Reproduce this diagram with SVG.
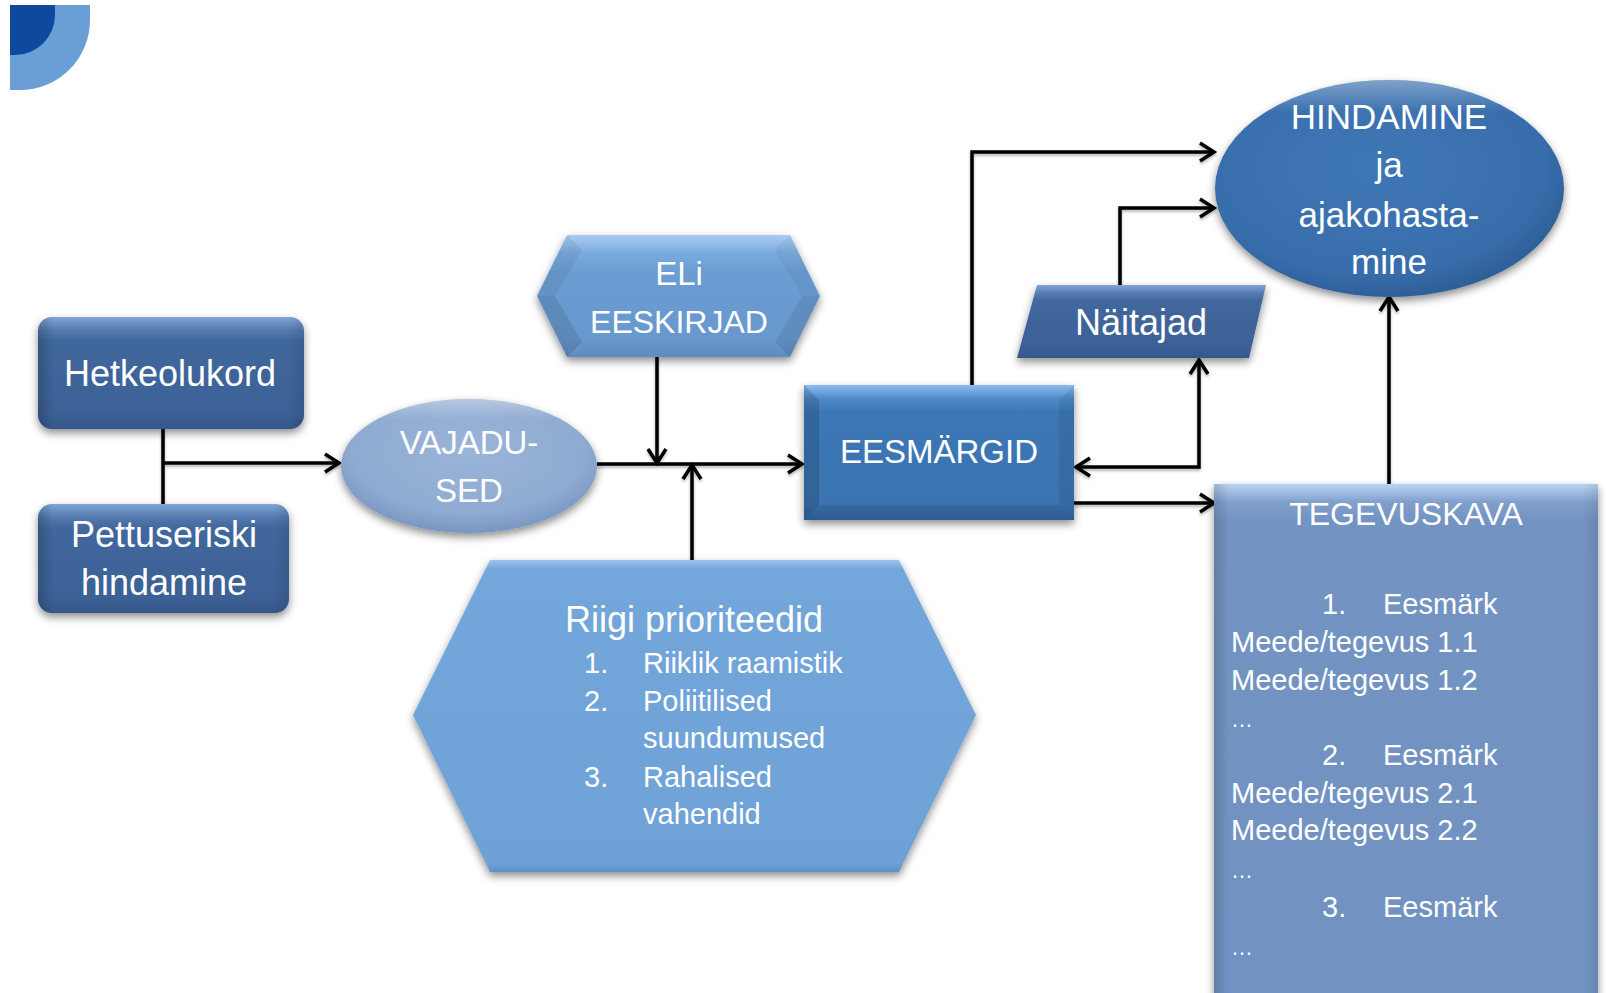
<svg xmlns="http://www.w3.org/2000/svg" width="1606" height="993" viewBox="0 0 1606 993">
<style>
text{font-family:"Liberation Sans",Arial,sans-serif;fill:#ffffff;}
.h{font-size:36px;text-anchor:middle;}
.l{font-size:29px;}
.conn{fill:none;stroke:#000;stroke-width:3.5;}
</style>
<defs>
<filter id="sh" x="-20%" y="-20%" width="140%" height="150%">
<feDropShadow dx="0" dy="4" stdDeviation="4" flood-color="#000" flood-opacity="0.45"/>
</filter>
<filter id="lsh" x="-10%" y="-10%" width="120%" height="120%">
<feDropShadow dx="0" dy="2" stdDeviation="1.5" flood-color="#000" flood-opacity="0.3"/>
</filter>
<marker id="ar" markerUnits="userSpaceOnUse" markerWidth="20" markerHeight="22" viewBox="0 0 20 22" refX="16" refY="11" orient="auto-start-reverse">
<path d="M2,2 L16,11 L2,20" fill="none" stroke="#000" stroke-width="3.5"/>
</marker>
<linearGradient id="gDark" x1="0" y1="0" x2="0" y2="1">
<stop offset="0" stop-color="#7ea6d8"/><stop offset="0.12" stop-color="#5479ae"/><stop offset="0.22" stop-color="#41679c"/><stop offset="0.85" stop-color="#3c6196"/><stop offset="1" stop-color="#33578a"/>
</linearGradient>
<linearGradient id="gMid" x1="0" y1="0" x2="0" y2="1">
<stop offset="0" stop-color="#8cbdf0"/><stop offset="0.1" stop-color="#4f8bc8"/><stop offset="0.2" stop-color="#3c77b5"/><stop offset="0.88" stop-color="#3a73b1"/><stop offset="1" stop-color="#31639c"/>
</linearGradient>
<linearGradient id="gLight" x1="0" y1="0" x2="0" y2="1">
<stop offset="0" stop-color="#a9cdf2"/><stop offset="0.15" stop-color="#7aaadd"/><stop offset="0.3" stop-color="#6b9dd2"/><stop offset="0.85" stop-color="#6898cd"/><stop offset="1" stop-color="#5d8cc0"/>
</linearGradient>
<linearGradient id="gRiigi" x1="0" y1="0" x2="0" y2="1">
<stop offset="0" stop-color="#9cc4ee"/><stop offset="0.03" stop-color="#73a6da"/><stop offset="0.97" stop-color="#6ea2d7"/><stop offset="1" stop-color="#5f90c4"/>
</linearGradient>
<linearGradient id="gTeg" x1="0" y1="0" x2="0" y2="1">
<stop offset="0" stop-color="#b9d4f4"/><stop offset="0.035" stop-color="#819fcc"/><stop offset="0.07" stop-color="#7393c2"/><stop offset="1" stop-color="#7192c2"/>
</linearGradient>
<linearGradient id="gSide" x1="0" y1="0" x2="1" y2="0">
<stop offset="0" stop-color="#000" stop-opacity="0.18"/><stop offset="0.06" stop-color="#000" stop-opacity="0"/><stop offset="0.94" stop-color="#000" stop-opacity="0"/><stop offset="1" stop-color="#000" stop-opacity="0.1"/>
</linearGradient>
<linearGradient id="gSideT" x1="0" y1="0" x2="1" y2="0">
<stop offset="0" stop-color="#000" stop-opacity="0.14"/><stop offset="0.04" stop-color="#000" stop-opacity="0"/><stop offset="0.96" stop-color="#000" stop-opacity="0"/><stop offset="1" stop-color="#000" stop-opacity="0.08"/>
</linearGradient>
<radialGradient id="gVaj" cx="0.5" cy="0.4" r="0.6">
<stop offset="0" stop-color="#9ab4d8"/><stop offset="0.75" stop-color="#90abd1"/><stop offset="1" stop-color="#7896c2"/>
</radialGradient>
<linearGradient id="gVajTop" x1="0" y1="0" x2="0" y2="1">
<stop offset="0" stop-color="#ffffff" stop-opacity="0.35"/><stop offset="0.15" stop-color="#ffffff" stop-opacity="0"/><stop offset="1" stop-color="#ffffff" stop-opacity="0"/>
</linearGradient>
<radialGradient id="gHind" cx="0.45" cy="0.4" r="0.62">
<stop offset="0" stop-color="#3f77b6"/><stop offset="0.8" stop-color="#386dab"/><stop offset="1" stop-color="#2c5c94"/>
</radialGradient>
</defs>
<rect width="1606" height="993" fill="#ffffff"/>
<g id="corner">
<path d="M10,5 H90 V20 A70,70 0 0 1 20,90 H10 Z" fill="#6a9fd6"/>
<path d="M10,5 H55 V15 A40,40 0 0 1 15,55 H10 Z" fill="#0d4a9e"/>
</g>
<g id="connectors" filter="url(#lsh)">
<path class="conn" d="M163,429 V504"/>
<path class="conn" d="M163,463 H339" marker-end="url(#ar)"/>
<path class="conn" d="M597,464 H802" marker-end="url(#ar)"/>
<path class="conn" d="M657,357 V463" marker-end="url(#ar)"/>
<path class="conn" d="M692,560 V465" marker-end="url(#ar)"/>
<path class="conn" d="M972,385 V152 H1214" marker-end="url(#ar)"/>
<path class="conn" d="M1120,285 V208 H1214" marker-end="url(#ar)"/>
<path class="conn" d="M1199,360 V467 H1076" marker-start="url(#ar)" marker-end="url(#ar)"/>
<path class="conn" d="M1074,503 H1214" marker-end="url(#ar)"/>
<path class="conn" d="M1389,484 V297" marker-end="url(#ar)"/>
</g>
<g id="hetkeolukord">
<rect x="38" y="317" width="266" height="112" rx="14" fill="url(#gDark)" filter="url(#sh)"/>
<rect x="38" y="317" width="266" height="112" rx="14" fill="url(#gSide)"/>
<text class="h" x="170" y="386">Hetkeolukord</text>
</g>
<g id="pettuseriski">
<rect x="38" y="504" width="251" height="109" rx="14" fill="url(#gDark)" filter="url(#sh)"/>
<rect x="38" y="504" width="251" height="109" rx="14" fill="url(#gSide)"/>
<text class="h" x="164" y="547">Pettuseriski</text>
<text class="h" x="164" y="595">hindamine</text>
</g>
<g id="vajadused">
<ellipse cx="469" cy="466" rx="128" ry="67" fill="url(#gVaj)" filter="url(#sh)"/>
<ellipse cx="469" cy="466" rx="128" ry="67" fill="url(#gVajTop)"/>
<text class="h" x="469" y="454" style="font-size:33px">VAJADU-</text>
<text class="h" x="469" y="502" style="font-size:33px">SED</text>
</g>
<g id="eli">
<polygon points="567,235 790,235 820,296 790,357 567,357 537,296" fill="url(#gLight)" filter="url(#sh)"/>
<polygon points="567,235 582,250 555,296 537,296" fill="#000" fill-opacity="0.06"/>
<polygon points="537,296 555,296 582,342 567,357" fill="#000" fill-opacity="0.1"/>
<polygon points="790,235 775,250 802,296 820,296" fill="#000" fill-opacity="0.04"/>
<polygon points="820,296 802,296 775,342 790,357" fill="#000" fill-opacity="0.08"/>
<text class="h" x="679" y="285" style="font-size:33px">ELi</text>
<text class="h" x="679" y="333" style="font-size:32px">EESKIRJAD</text>
</g>
<g id="riigi">
<polygon points="490,560 899,560 976,715 899,872 490,872 413,715" fill="url(#gRiigi)" filter="url(#sh)"/>
<text class="h" x="694" y="632">Riigi prioriteedid</text>
<text class="l" x="584" y="673">1.</text><text class="l" x="643" y="673">Riiklik raamistik</text>
<text class="l" x="584" y="711">2.</text><text class="l" x="643" y="711">Poliitilised</text>
<text class="l" x="643" y="748">suundumused</text>
<text class="l" x="584" y="787">3.</text><text class="l" x="643" y="787">Rahalised</text>
<text class="l" x="643" y="824">vahendid</text>
</g>
<g id="eesmargid">
<rect x="804" y="385" width="270" height="135" fill="url(#gMid)" filter="url(#sh)"/>
<polygon points="804,385 819,400 819,505 804,520" fill="#000" fill-opacity="0.14"/>
<polygon points="1074,385 1059,400 1059,505 1074,520" fill="#000" fill-opacity="0.07"/>
<polygon points="804,520 819,505 1059,505 1074,520" fill="#000" fill-opacity="0.08"/>
<text class="h" x="939" y="463" style="font-size:33px">EESMÄRGID</text>
</g>
<g id="naitajad">
<polygon points="1037,285 1266,285 1249,358 1017,358" fill="url(#gDark)" filter="url(#sh)"/>
<text class="h" x="1141" y="335">Näitajad</text>
</g>
<g id="hindamine">
<ellipse cx="1389.5" cy="188.5" rx="174.5" ry="108.5" fill="url(#gHind)" filter="url(#sh)"/>
<ellipse cx="1389.5" cy="188.5" rx="174.5" ry="108.5" fill="url(#gVajTop)"/>
<text class="h" x="1389" y="129" style="font-size:35px">HINDAMINE</text>
<text class="h" x="1389" y="177" style="font-size:35px">ja</text>
<text class="h" x="1389" y="227" style="font-size:35px">ajakohasta-</text>
<text class="h" x="1389" y="274" style="font-size:35px">mine</text>
</g>
<g id="tegevuskava">
<rect x="1214" y="484" width="384" height="520" fill="url(#gTeg)" filter="url(#sh)"/>
<rect x="1214" y="484" width="384" height="520" fill="url(#gSideT)"/>
<text class="h" x="1406" y="525" style="font-size:32px">TEGEVUSKAVA</text>
<text class="l" x="1322" y="614">1.</text><text class="l" x="1383" y="614">Eesmärk</text>
<text class="l" x="1231" y="652">Meede/tegevus 1.1</text>
<text class="l" x="1231" y="690">Meede/tegevus 1.2</text>
<text class="l" x="1231" y="727" style="font-size:22px">…</text>
<text class="l" x="1322" y="765">2.</text><text class="l" x="1383" y="765">Eesmärk</text>
<text class="l" x="1231" y="803">Meede/tegevus 2.1</text>
<text class="l" x="1231" y="840">Meede/tegevus 2.2</text>
<text class="l" x="1231" y="878" style="font-size:22px">…</text>
<text class="l" x="1322" y="917">3.</text><text class="l" x="1383" y="917">Eesmärk</text>
<text class="l" x="1231" y="955" style="font-size:22px">…</text>
</g>
</svg>
